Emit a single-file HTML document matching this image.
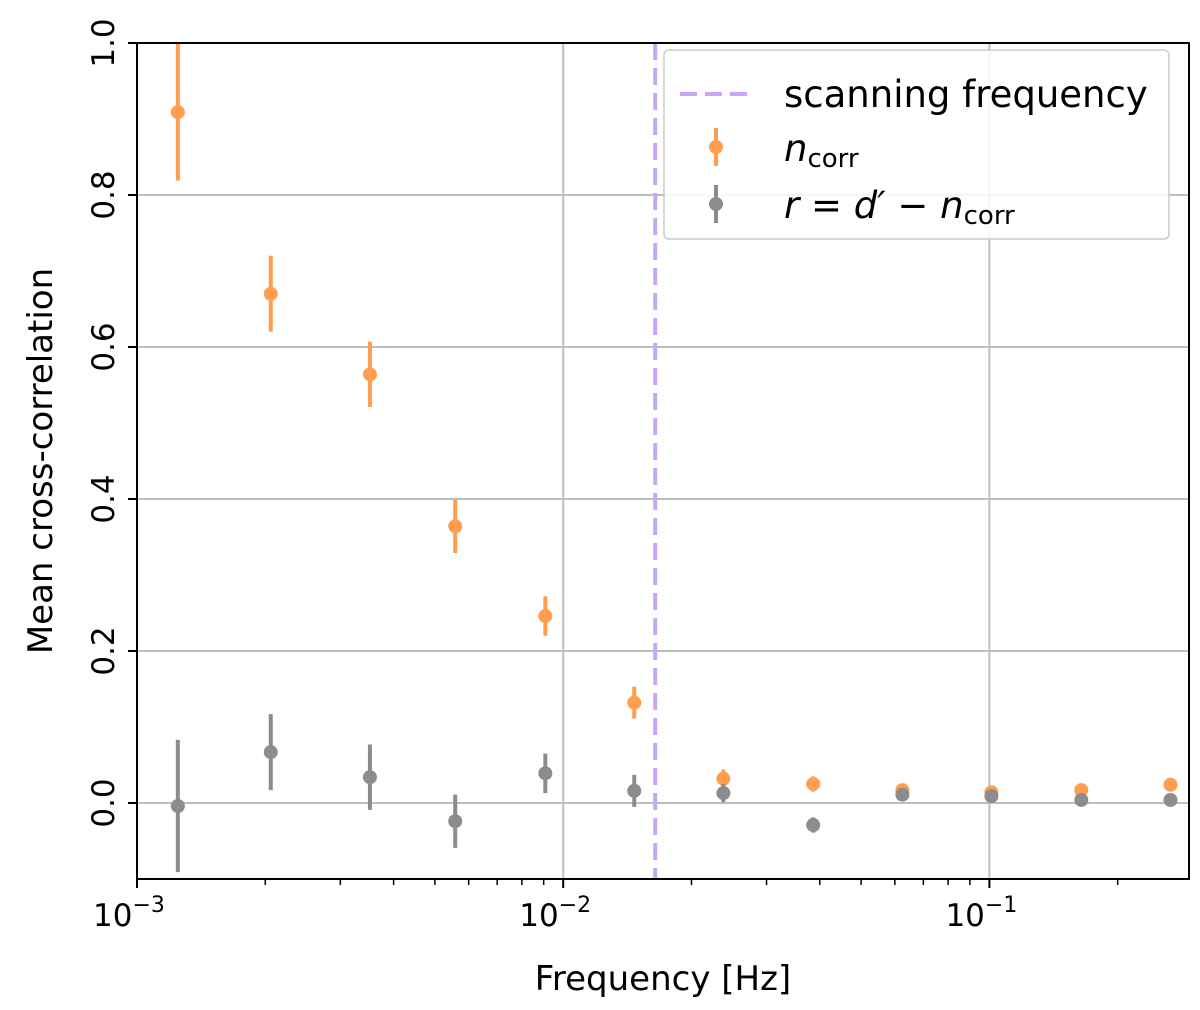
<!DOCTYPE html>
<html><head><meta charset="utf-8"><style>
body{margin:0;background:#fff;}
svg{display:block;font-family:"DejaVu Sans","Liberation Sans",sans-serif;}
</style></head><body>
<svg id="chart" width="1200" height="1010" viewBox="0 0 1200 1010" xmlns="http://www.w3.org/2000/svg">
<g id="grid"></g>
<g id="marks"></g>
<rect x="137" y="43" width="1052" height="836" fill="none" stroke="#000" stroke-width="2"/>
<g id="axes"></g>
<text x="663" y="990" font-size="34" text-anchor="middle">Frequency [Hz]</text>
<text transform="translate(52,461) rotate(-90)" font-size="34" text-anchor="middle">Mean cross-correlation</text>
<g>
<rect x="664" y="50" width="505" height="189" rx="5" fill="#fff" fill-opacity="0.85" stroke="#ccc" stroke-width="1.5"/>
<g><line x1="680" y1="94" x2="752" y2="94" stroke="#c9a6f7" stroke-width="4" stroke-dasharray="17,8"/><text x="784" y="107" font-size="37">scanning frequency</text></g>
<g><line x1="716" y1="128" x2="716" y2="166" stroke="#fe9f50" stroke-width="4"/><circle cx="716" cy="147" r="7" fill="#fe9f50"/><text x="784" y="161" font-size="37" font-style="italic">n<tspan font-size="26" font-style="normal" dy="6">corr</tspan></text></g>
<g><line x1="716" y1="185" x2="716" y2="223" stroke="#8c8c8c" stroke-width="4"/><circle cx="716" cy="204" r="7" fill="#8c8c8c"/><text x="784" y="218" font-size="37"><tspan font-style="italic">r</tspan> = <tspan font-style="italic">d′</tspan> − <tspan font-style="italic">n</tspan><tspan font-size="26" dy="6">corr</tspan></text></g>
</g>
</svg>
<script>
const freqs=[1.247e-3,2.06e-3,3.52e-3,5.58e-3,9.08e-3,0.01468,0.02376,0.0386,0.0625,0.1011,0.1643,0.266];
const ncorr=[0.909,0.670,0.564,0.364,0.246,0.132,0.032,0.025,0.017,0.014,0.017,0.024];
const ncorrErr=[0.09,0.05,0.043,0.035,0.026,0.021,0.012,0.01,0.004,0.004,0.004,0.004];
const resid=[-0.004,0.067,0.034,-0.024,0.039,0.016,0.013,-0.029,0.011,0.009,0.004,0.004];
const residErr=[0.087,0.05,0.043,0.035,0.026,0.021,0.012,0.01,0.004,0.004,0.004,0.004];
const scanFreq=0.01644;
const yTicks=[0,0.2,0.4,0.6,0.8,1.0];
const yTickLabels=["0.0","0.2","0.4","0.6","0.8","1.0"];
const xMajor=[-3,-2,-1];
const NS="http://www.w3.org/2000/svg";
const L=137,R=1189,T=43,B=879;
const xmin=-3,xmax=Math.log10(0.294),ymin=-0.1,ymax=1.0;
const xs=f=>L+(Math.log10(f)-xmin)/(xmax-xmin)*(R-L);
const ys=v=>B-(v-ymin)/(ymax-ymin)*(B-T);
function mk(tag,attrs,parent){const e=document.createElementNS(NS,tag);for(const k in attrs)e.setAttribute(k,attrs[k]);parent.appendChild(e);return e;}
const grid=document.getElementById('grid'),axes=document.getElementById('axes'),marks=document.getElementById('marks');
yTicks.forEach((v,i)=>{const y=ys(v);
const g=mk('line',{x1:L,x2:R,y1:y,y2:y,stroke:'#bfbfbf','stroke-width':2},grid);


const t=mk('line',{x1:L-9,x2:L,y1:y,y2:y,stroke:'#000','stroke-width':2},axes);


const tx=mk('text',{transform:`translate(${L-23},${y}) rotate(-90)`,'font-size':31,'text-anchor':'middle'},axes);
tx.textContent=yTickLabels[i];


});
xMajor.forEach(p=>{const x=xs(Math.pow(10,p));
const g=mk('line',{x1:x,x2:x,y1:T,y2:B,stroke:'#bfbfbf','stroke-width':2},grid);


const t=mk('line',{x1:x,x2:x,y1:B,y2:B+9,stroke:'#000','stroke-width':2},axes);


const tx=mk('text',{x:x-8,y:B+47,'font-size':31,'text-anchor':'middle'},axes);
tx.innerHTML='10<tspan font-size="22" dy="-14">−'+(-p)+'</tspan>';


for(let m=2;m<=9;m++){const xm=xs(m*Math.pow(10,p));if(xm>R)break;
const mt=mk('line',{x1:xm,x2:xm,y1:B,y2:B+6,stroke:'#000','stroke-width':1.5},axes);

}
});
const sl=mk('line',{x1:xs(scanFreq),x2:xs(scanFreq),y1:T,y2:B,stroke:'#c9a6f7','stroke-width':4,'stroke-dasharray':'17,8'},marks);


function series(vals,errs,color,name){freqs.forEach((f,i)=>{const x=xs(f);
const e=mk('line',{x1:x,x2:x,y1:ys(vals[i]-errs[i]),y2:ys(vals[i]+errs[i]),stroke:color,'stroke-width':4},marks);


const c=mk('circle',{cx:x,cy:ys(vals[i]),r:7,fill:color},marks);

});}
series(ncorr,ncorrErr,'#fe9f50','ncorr');
series(resid,residErr,'#8c8c8c','residual');
</script>
</body></html>
